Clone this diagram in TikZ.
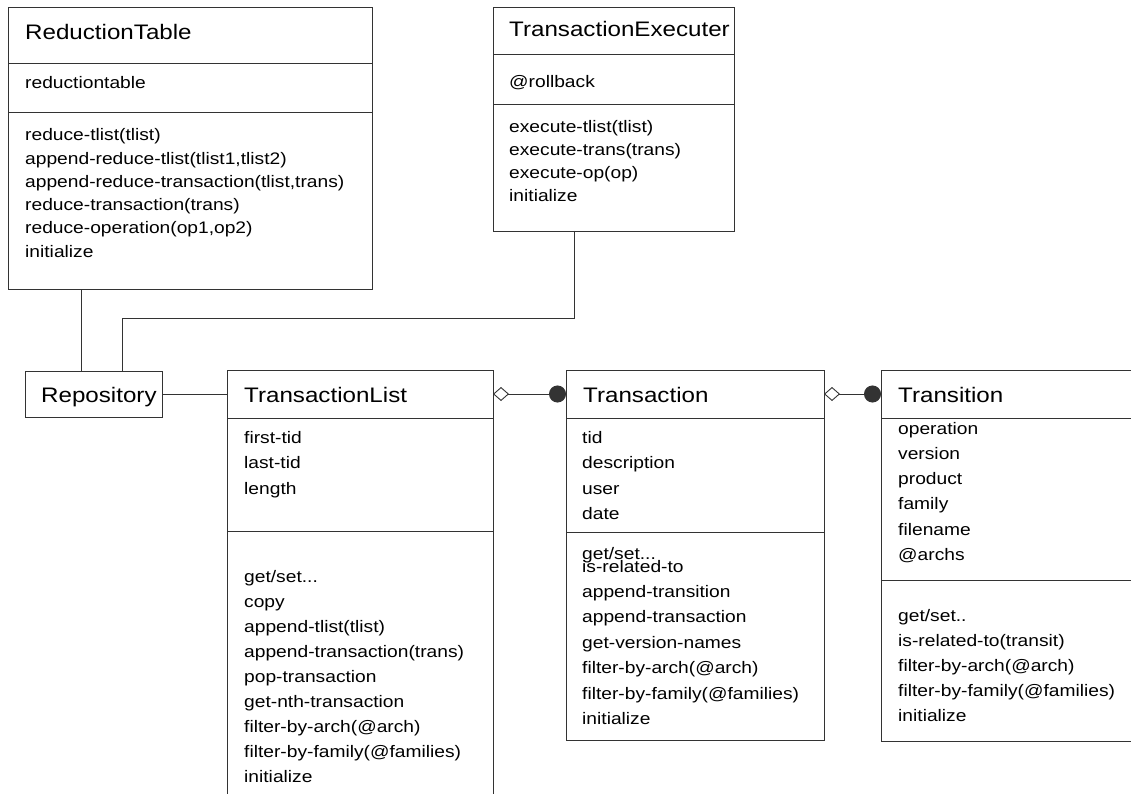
\documentclass[tikz,border=0pt]{standalone}
\usepackage{fontspec}
\setmainfont{Liberation Sans}[FakeStretch=1.15]
\usetikzlibrary{arrows.meta}
\tikzset{
  umlbox/.style={draw=black!80, line width=0.9pt, fill=white, anchor=north west, inner sep=0pt, outer sep=0pt},
  sep/.style={draw=black!80, line width=0.9pt},
  link/.style={draw=black!80, line width=0.9pt},
  title/.style={anchor=base west, inner sep=0pt, font=\fontsize{21}{25}\selectfont},
  item/.style={anchor=base west, inner sep=0pt, font=\fontsize{16.7}{20}\selectfont},
  agg/.style={link, {Diamond[open,length=16pt,width=14pt,line width=0.9pt]}-{Circle[length=17pt]}},
}
\begin{document}
\begin{tikzpicture}[x=1pt, y=-1pt]
\useasboundingbox (0,0) rectangle (1131,794);
\clip (0,0) rectangle (1131,794);

% ---------- ReductionTable ----------
\node[umlbox, minimum width=364pt, minimum height=282pt] (rt) at (8,7) {};
\draw[sep] (8,63) -- (372,63);
\draw[sep] (8,112) -- (372,112);
\node[title] (rt-t) at (25,39.5) {ReductionTable};
\node[item] (rt-a) at (25,89) {reductiontable};
\foreach \t [count=\i from 0] in {{reduce-tlist(tlist)}, {append-reduce-tlist(tlist1,tlist2)},
    {append-reduce-transaction(tlist,trans)}, {reduce-transaction(trans)},
    {reduce-operation(op1,op2)}, {initialize}}
  \node[item] (rt-m\i) at (25,141+\i*23.2) {\t};

% ---------- TransactionExecuter ----------
\node[umlbox, minimum width=241pt, minimum height=224pt] (te) at (493,7) {};
\draw[sep] (493,54) -- (734,54);
\draw[sep] (493,104) -- (734,104);
\node[title] (te-t) at (509,36.5) {TransactionExecuter};
\node[item] (te-a) at (509,88) {@rollback};
\foreach \t [count=\i from 0] in {{execute-tlist(tlist)}, {execute-trans(trans)}, {execute-op(op)}, {initialize}}
  \node[item] (te-m\i) at (509,133+\i*23) {\t};

% ---------- Repository ----------
\node[umlbox, minimum width=137pt, minimum height=46pt] (repo) at (25,371) {};
\node[title] (repo-t) at (41,402) {Repository};

% ---------- TransactionList ----------
\node[umlbox, minimum width=266pt, minimum height=440pt] (tl) at (227,370) {};
\draw[sep] (227,418) -- (493,418);
\draw[sep] (227,531) -- (493,531);
\node[title] (tl-t) at (244,402) {TransactionList};
\foreach \t [count=\i from 0] in {{first-tid}, {last-tid}, {length}}
  \node[item] (tl-a\i) at (244,443+\i*25.5) {\t};
\node[item] (tl-m0) at (244,582) {get/set...};
\foreach \t [count=\i from 1] in {{copy}, {append-tlist(tlist)}, {append-transaction(trans)},
    {pop-transaction}, {get-nth-transaction}, {filter-by-arch(@arch)}, {filter-by-family(@families)}, {initialize}}
  \node[item] (tl-m\i) at (244,582+\i*25) {\t};

% ---------- Transaction ----------
\node[umlbox, minimum width=258pt, minimum height=370pt] (ta) at (566,370) {};
\draw[sep] (566,418) -- (824,418);
\draw[sep] (566,532) -- (824,532);
\node[title] (ta-t) at (583,402) {Transaction};
\foreach \t [count=\i from 0] in {{tid}, {description}, {user}, {date}}
  \node[item] (ta-a\i) at (582,443+\i*25.5) {\t};
\node[item] (ta-m0) at (582,559) {get/set...};
\foreach \t [count=\i from 1] in {{is-related-to}, {append-transition}, {append-transaction},
    {get-version-names}, {filter-by-arch(@arch)}, {filter-by-family(@families)}, {initialize}}
  \node[item] (ta-m\i) at (582,572+\i*25.4-25.4) {\t};

% ---------- Transition ----------
\node[umlbox, minimum width=270pt, minimum height=371pt] (tr) at (881,370) {};
\draw[sep] (881,418) -- (1151,418);
\draw[sep] (881,580) -- (1151,580);
\node[title] (tr-t) at (898,402) {Transition};
\foreach \t [count=\i from 0] in {{operation}, {version}, {product}, {family}, {filename}, {@archs}}
  \node[item] (tr-a\i) at (898,434+\i*25.3) {\t};
\node[item] (tr-m0) at (898,621) {get/set..};
\foreach \t [count=\i from 1] in {{is-related-to(transit)}, {filter-by-arch(@arch)},
    {filter-by-family(@families)}, {initialize}}
  \node[item] (tr-m\i) at (898,621+\i*25) {\t};

% ---------- connectors ----------
\coordinate (rt-foot) at (81,289);
\coordinate (te-foot) at (574,231);
\coordinate (te-bend) at (574,318);
\coordinate (repo-bend) at (122,318);
\coordinate (row) at (0,394);
\draw[link] (rt-foot) -- (rt-foot |- repo.north);
\draw[link] (te-foot) -- (te-bend) -- (repo-bend) -- (repo-bend |- repo.north);
\draw[link] (repo.east |- row) -- (tl.west |- row);
\draw[agg] (tl.east |- row) -- (ta.west |- row);
\draw[agg] (ta.east |- row) -- (tr.west |- row);
\end{tikzpicture}
\end{document}
